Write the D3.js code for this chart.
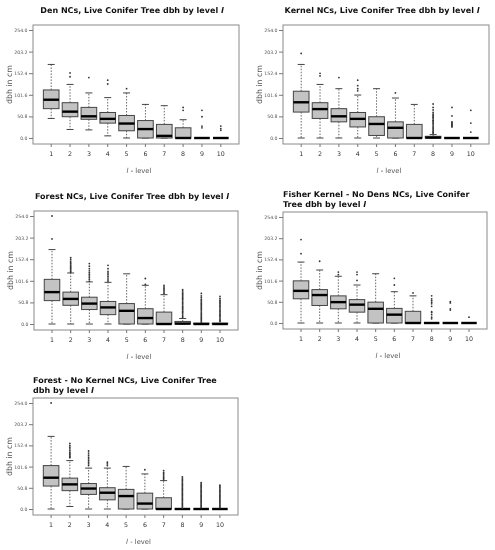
<!DOCTYPE html>
<html><head><meta charset="utf-8">
<script src="https://cdn.jsdelivr.net/npm/d3@7"></script>
<style>body{margin:0;background:#fff}svg{display:block;will-change:transform;-webkit-font-smoothing:antialiased;text-rendering:geometricPrecision}</style>
</head><body>
<svg id="c" width="495" height="550"></svg>
<script>
// ---- data ----
const levels = [1,2,3,4,5,6,7,8,9,10];
const yTicks = [0, 50.8, 101.6, 152.4, 203.2, 254.0];

// [lower whisker, Q1, median, Q3, upper whisker] per level
const denStats = [[46,69,90,113,173],[20,50,62,83,126],[19,44,51,72,106],[5,35,45,60,95],[0,17,34,53,106],[0,0,21,41,79],[0,0,5,32,76],[0,0,0,24,43],[0,0,0,0,0],[0,0,0,0,0]];
const denOut = [[],[153,144],[142],[136,127],[116],[],[],[72,65],[65,50,28,24],[28,22,18]];

const kernelStats = [[0,61,84,110,173],[0,46,68,83,126],[0,38,51,69,116],[0,26,45,60,101],[0,6,33,50,116],[0,0,24,38,94],[0,0,0,32,79],[0,0,1,4,8],[0,0,0,0,0],[0,0,0,0,0]];
const kernelOut = [[199],[152,146],[142],[136,123,116,111],[],[106],[],[80,72,66,60,56,53,50,48,45,42,40,37,34,31,28,25,22,19,16,13,11],[72,52,38,36,34,32,30,28,26],[65,35,14]];

const forestStats = [[0,55,75,105,175],[0,44,59,75,120],[0,34,48,63,99],[0,22,39,53,98],[0,0,31,48,118],[0,0,14,36,91],[0,0,0,28,69],[0,0,1,6,13],[0,0,0,2,2],[0,0,0,2,2]];
const forestOut = [[254,200],[156,152,148,145,142,139,136,133,130,127,124,122],[142,136,130,125,121,117,113,109,105,101],[138,130,124,120,116,112,108,104,101],[],[107,93],[91,87,84,81,78,75,72],[81,78,75,72,69,66,63,60,57,54,51,48,45,42,39,36,33,30,27,24,21,18,15],[72,66,62,58,55,52,49,46,43,40,37,34,31,28,25,22,19,16,13,10,7,4],[65,60,56,53,50,47,44,41,38,35,32,29,26,23,20,17,14,11,8,6]];

const fisherStats = [[0,58,77,101,146],[0,42,67,80,127],[0,34,50,65,112],[0,26,44,56,91],[0,0,34,50,118],[0,0,20,35,75],[0,0,0,28,65],[0,0,0,0,0],[0,0,0,0,0],[0,0,0,0,0]];
const fisherOut = [[200,166],[148],[122,116],[122,116,102],[],[107,91],[72],[65,58,54,50,46,40,27,25,20,14,10],[51,48,34,31],[14]];

const noKernelStats = [[0,55,75,104,174],[6,44,59,74,116],[0,35,49,61,98],[0,22,39,51,98],[0,0,31,47,102],[0,0,13,38,84],[0,0,0,27,68],[0,0,0,0,0],[0,0,0,0,0],[0,0,0,0,0]];
const noKernelOut = [[254],[157,152,148,144,140,136,133,130,127,125,123],[139,134,129,124,120,116,112,108,104],[112,108,104],[],[94],[92,88,85,82,79,76,73,70],[77,74,71,68,65,62,59,56,53,50,47,44,41,38,35,32,29,26,23,20,17,14,11,8,5,2],[63,60,57,54,51,48,45,42,39,36,33,30,27,24,21,18,15,12,9,6,3],[57,54,51,48,45,42,39,36,33,30,27,24,21,18,15,12,9,6,3]];

const titles = [
  ["Den NCs, Live Conifer Tree dbh by level "],
  ["Kernel NCs, Live Conifer Tree dbh by level "],
  ["Forest NCs, Live Conifer Tree dbh by level "],
  ["Fisher Kernel - No Dens NCs, Live Conifer", "Tree dbh by level "],
  ["Forest - No Kernel NCs, Live Conifer Tree", "dbh by level "]
];
const yLabel = "dbh in cm";
const xLabelTail = " - level";

// ---- layout ----
const panels = [
  {stats: denStats, out: denOut, x: 33, y: 25, w: 206, h: 119, ty: [13], center: true},
  {stats: kernelStats, out: kernelOut, x: 283, y: 25, w: 206, h: 119, ty: [13], center: true},
  {stats: forestStats, out: forestOut, x: 34, y: 211, w: 204, h: 119, ty: [199], center: true},
  {stats: fisherStats, out: fisherOut, x: 283, y: 212, w: 204, h: 117, ty: [197, 207], center: false},
  {stats: noKernelStats, out: noKernelOut, x: 33, y: 398, w: 205, h: 117, ty: [383, 393], center: false}
];

const svg = d3.select("#c");
const grey = "#555";

panels.forEach((p, i) => {
  const g = svg.append("g");
  const x = d3.scaleBand().domain(levels).range([p.x, p.x + p.w]).paddingInner(0.17).paddingOuter(0.55);
  const y = d3.scaleLinear().domain([0, 254]).range([p.y + p.h - 6, p.y + 5]);
  const bw = x.bandwidth();

  // title
  titles[i].forEach((line, li) => {
    const t = g.append("text")
      .attr("x", p.center ? p.x + p.w / 2 - 4 : p.x)
      .attr("y", p.ty[li])
      .attr("text-anchor", p.center ? "middle" : "start")
      .attr("font-family", "DejaVu Sans, Verdana, sans-serif")
      .attr("font-weight", "bold")
      .attr("font-size", "8px")
      .attr("fill", "#111")
      .text(line);
    if (li === titles[i].length - 1) t.append("tspan").attr("font-style", "italic").text("l");
  });

  // frame
  g.append("rect").attr("x", p.x).attr("y", p.y).attr("width", p.w).attr("height", p.h)
    .attr("fill", "none").attr("stroke", "#8a8a8a").attr("stroke-width", 1);

  // y axis
  const ya = d3.axisLeft(y).tickValues(yTicks).tickFormat(d3.format(".1f")).tickSize(4).tickPadding(1.5);
  const yg = g.append("g").attr("transform", `translate(${p.x},0)`).call(ya);
  yg.select(".domain").remove();
  yg.selectAll("line").attr("stroke", "#777");
  yg.selectAll("text").attr("font-size", "4.6px").attr("font-family", "DejaVu Sans, sans-serif").attr("fill", grey);

  // x axis
  const xa = d3.axisBottom(x).tickSize(3).tickPadding(5);
  const xg = g.append("g").attr("transform", `translate(0,${p.y + p.h})`).call(xa);
  xg.select(".domain").remove();
  xg.selectAll("line").attr("stroke", "#777");
  xg.selectAll("text").attr("font-size", "6.3px").attr("font-family", "DejaVu Sans, sans-serif").attr("fill", "#333");

  // axis labels
  g.append("text")
    .attr("transform", `translate(${p.x - 21},${p.y + p.h / 2}) rotate(-90)`)
    .attr("text-anchor", "middle")
    .attr("font-size", "7.8px").attr("font-family", "DejaVu Sans, sans-serif").attr("fill", grey)
    .text(yLabel);
  const xl = g.append("text")
    .attr("x", p.x + p.w / 2 + 3).attr("y", p.y + p.h + 29)
    .attr("text-anchor", "middle")
    .attr("font-size", "6.8px").attr("font-family", "DejaVu Sans, sans-serif").attr("fill", grey);
  xl.append("tspan").attr("font-style", "italic").text("l");
  xl.append("tspan").text(xLabelTail);

  // boxes
  levels.forEach((lv, k) => {
    const [lo, q1, med, q3, hi] = p.stats[k];
    const cx = x(lv) + bw / 2;
    const bg = g.append("g");
    // whiskers
    if (hi > q3) {
      bg.append("line").attr("x1", cx).attr("x2", cx).attr("y1", y(q3)).attr("y2", y(hi))
        .attr("stroke", "#666").attr("stroke-width", 1).attr("stroke-dasharray", "1.5,1.5");
      bg.append("line").attr("x1", cx - 3.5).attr("x2", cx + 3.5).attr("y1", y(hi)).attr("y2", y(hi))
        .attr("stroke", "#444").attr("stroke-width", 1);
    }
    if (q1 > lo) {
      bg.append("line").attr("x1", cx).attr("x2", cx).attr("y1", y(q1)).attr("y2", y(lo))
        .attr("stroke", "#666").attr("stroke-width", 1).attr("stroke-dasharray", "1.5,1.5");
    }
    bg.append("line").attr("x1", cx - 3.5).attr("x2", cx + 3.5).attr("y1", y(lo)).attr("y2", y(lo))
      .attr("stroke", "#444").attr("stroke-width", 1);
    // box
    bg.append("rect").attr("x", x(lv)).attr("width", bw)
      .attr("y", y(q3)).attr("height", Math.max(0, y(q1) - y(q3)))
      .attr("fill", "#c3c3c3").attr("stroke", "#444").attr("stroke-width", 1);
    // median
    bg.append("line").attr("x1", x(lv)).attr("x2", x(lv) + bw).attr("y1", y(med)).attr("y2", y(med))
      .attr("stroke", "#000").attr("stroke-width", 2.4);
    // outliers
    bg.selectAll("circle").data(p.out[k]).join("circle")
      .attr("cx", cx).attr("cy", d => y(d)).attr("r", 0.9).attr("fill", "#333");
  });
});
</script>
</body></html>
